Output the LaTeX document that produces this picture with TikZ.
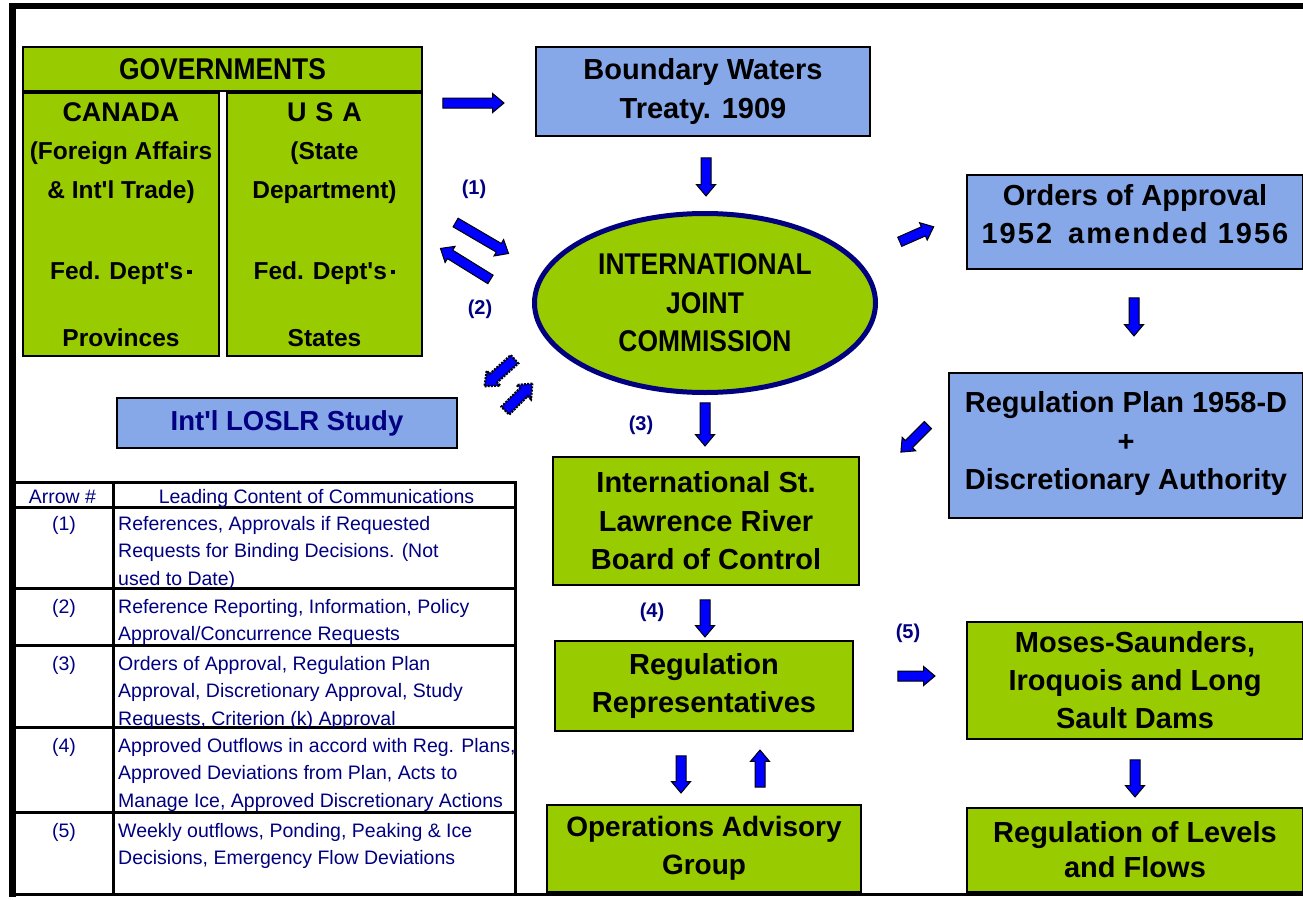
\documentclass[tikz,border=0pt]{standalone}
\usepackage{fontspec}
\setmainfont{Liberation Sans}
\newfontfamily\condfont[FakeStretch=0.88]{Liberation Sans}
\usetikzlibrary{calc,shapes.geometric,shapes.arrows}
\definecolor{limegr}{RGB}{153,204,0}
\definecolor{skyblu}{RGB}{134,167,232}
\definecolor{navyblu}{RGB}{0,0,128}
\definecolor{arrblu}{RGB}{0,0,255}
\newcommand{\sqbul}{\rule[5pt]{4.5pt}{4.5pt}}
\newcommand{\aps}{\textquotesingle}

\begin{document}
\begin{tikzpicture}[x=1pt,y=-1pt,
  box/.style={draw=black, line width=1.2, fill=limegr, align=center, inner sep=0,
    font=\bfseries\fontsize{29}{38.5}\selectfont},
  bluebox/.style={box, fill=skyblu},
  barrow/.style={single arrow, draw=black, fill=arrblu, line width=1, inner xsep=0,
    inner ysep=4.5, single arrow head extend=4.5, single arrow tip angle=80},
  dotarrow/.style={barrow, line width=2.2, dash pattern=on 2pt off 1.2pt},
  lbl/.style={text=navyblu, font=\bfseries\fontsize{20}{22}\selectfont},
  cell/.style={text=navyblu, font=\fontsize{19.5}{27.5}\selectfont, align=left,
    anchor=north west, inner sep=0},
  tline/.style={line width=3}]
\path[use as bounding box, fill=white] (0,0) rectangle (1303,899);

\node[box, minimum width=399, minimum height=44,
  font=\condfont\bfseries\fontsize{30}{36}\selectfont] (gov) at (222.5,69) {GOVERNMENTS};
\node[box, minimum width=196, minimum height=263, font=\bfseries\fontsize{24.5}{38.5}\selectfont]
  (canada) at (121,224.5)
  {{\fontsize{27}{38.5}\selectfont CANADA}\\(Foreign Affairs\\\& Int\aps l Trade)\\[42.5pt]
   Fed. Dept\aps s\,\sqbul\\[28.5pt]Provinces};
\node[box, minimum width=195, minimum height=263, font=\bfseries\fontsize{24.5}{38.5}\selectfont]
  (usa) at (324.5,224.5)
  {{\fontsize{27}{38.5}\selectfont U\hspace{9pt}S\hspace{9pt}A}\\(State\\Department)\\[42.5pt]
   Fed. Dept\aps s\,\sqbul\\[28.5pt]States};

\node[bluebox, minimum width=334, minimum height=89] (bwt) at (703,91.5)
  {Boundary Waters\\Treaty. 1909};
\node[bluebox, minimum width=336, minimum height=94, text depth=16] (orders) at (1135,222)
  {Orders of Approval\\{\addfontfeature{LetterSpace=7}1952\hspace{16pt}amended 1956}};
\node[bluebox, minimum width=354, minimum height=145, text depth=10] (plan) at (1126,445.5)
  {Regulation Plan 1958-D\\+\\Discretionary Authority};
\node[bluebox, minimum width=340, minimum height=50, text=navyblu,
  font=\bfseries\fontsize{27.5}{30}\selectfont] (study) at (287,423) {Int\aps l LOSLR Study};

\node[ellipse, draw=navyblu, line width=5, fill=limegr, minimum width=341, minimum height=179,
  align=center, inner sep=0, font=\condfont\bfseries\fontsize{30}{38.5}\selectfont]
  (ijc) at (705,303) {INTERNATIONAL\\JOINT\\COMMISSION};

\node[box, minimum width=306, minimum height=128] (board) at (706,521)
  {International St.\\Lawrence River\\Board of Control};
\node[box, minimum width=298, minimum height=90] (reps) at (704,686)
  {Regulation\\Representatives};
\node[box, minimum width=314, minimum height=87, font=\bfseries\fontsize{28}{38}\selectfont]
  (ops) at (704,848.5) {Operations Advisory\\Group};
\node[box, minimum width=336, minimum height=117, font=\bfseries\fontsize{29}{38}\selectfont]
  (dams) at (1135,680.5) {Moses-Saunders,\\Iroquois and Long\\Sault Dams};
\node[box, minimum width=336, minimum height=84, font=\bfseries\fontsize{29}{35}\selectfont]
  (levels) at (1135,850) {Regulation of Levels\\and Flows};

\node[lbl] (l1) at (474,189) {(1)};
\node[lbl] (l2) at (480,309) {(2)};
\node[lbl] (l3) at (641,425) {(3)};
\node[lbl] (l4) at (652,612) {(4)};
\node[lbl] (l5) at (908,633) {(5)};

\foreach \k/\ta/\tb in {govarr/{440,103}/{501,103}, bwtarr/{706,155}/{706,193},
    refarr/{453,221}/{506,252}, reparr/{493,281}/{443,250}, ordarr/{897,243}/{931,228},
    planarr/{1134,295}/{1134,333}, discarr/{930,423}/{903,450}, ijcarr/{705,400}/{705,443},
    boardarr/{705,597}/{705,634}, damarr/{895,676}/{932,676}, opsdown/{681,753}/{681,790},
    opsup/{760,790}/{760,753}, flowarr/{1135,757}/{1135,794}}
{
  \coordinate (\k-s) at (\ta);
  \coordinate (\k-e) at (\tb);
  \path let \p1=($(\k-e)-(\k-s)$), \n1={atan2(\y1,\x1)}, \n2={veclen(\x1,\y1)} in
    node[barrow, minimum height=\n2, rotate=\n1] (\k) at ($(\k-s)!0.5!(\k-e)$) {};
}
\foreach \k/\ta/\tb in {studyin/{517,357}/{487,384}, studyout/{503,413}/{530,386}}
{
  \coordinate (\k-s) at (\ta);
  \coordinate (\k-e) at (\tb);
  \path let \p1=($(\k-e)-(\k-s)$), \n1={atan2(\y1,\x1)}, \n2={veclen(\x1,\y1)} in
    node[dotarrow, minimum height=\n2, rotate=\n1] (\k) at ($(\k-s)!0.5!(\k-e)$) {};
}

\draw[tline] (15,482) -- (515,482) -- (515,895);
\draw[tline] (113,482) -- (113,895);
\foreach \y in {507,588,645,727,812}
  \draw[tline] (15,\y) -- (515,\y);
\node[cell, anchor=base] (hd1) at (62.5,503) {Arrow \#};
\node[cell, anchor=base] (hd2) at (316.5,503) {Leading Content of Communications};
\node[cell, anchor=base] (n1) at (64,530) {(1)};
\node[cell, anchor=base] (n2) at (64,613) {(2)};
\node[cell, anchor=base] (n3) at (64,670) {(3)};
\node[cell, anchor=base] (n4) at (64,752) {(4)};
\node[cell, anchor=base] (n5) at (64,837) {(5)};
\node[cell] (t1) at (118,515.8)
  {References, Approvals if Requested\\Requests for Binding Decisions. (Not\\used to Date)};
\node[cell] (t2) at (118,598.8)
  {Reference Reporting, Information, Policy\\Approval/Concurrence Requests};
\node[cell] (t3) at (118,655.8)
  {Orders of Approval, Regulation Plan\\Approval, Discretionary Approval, Study\\Requests, Criterion (k) Approval};
\node[cell] (t4) at (118,737.8)
  {Approved Outflows in accord with Reg. Plans,\\Approved Deviations from Plan, Acts to\\Manage Ice, Approved Discretionary Actions};
\node[cell] (t5) at (118,822.8)
  {Weekly outflows, Ponding, Peaking \& Ice\\Decisions, Emergency Flow Deviations};

\draw[line width=7] (12.5,3) -- (12.5,897);
\draw[line width=6] (9,6) -- (1303,6);
\draw[line width=3.5] (9,894.5) -- (1303,894.5);
\end{tikzpicture}
\end{document}
